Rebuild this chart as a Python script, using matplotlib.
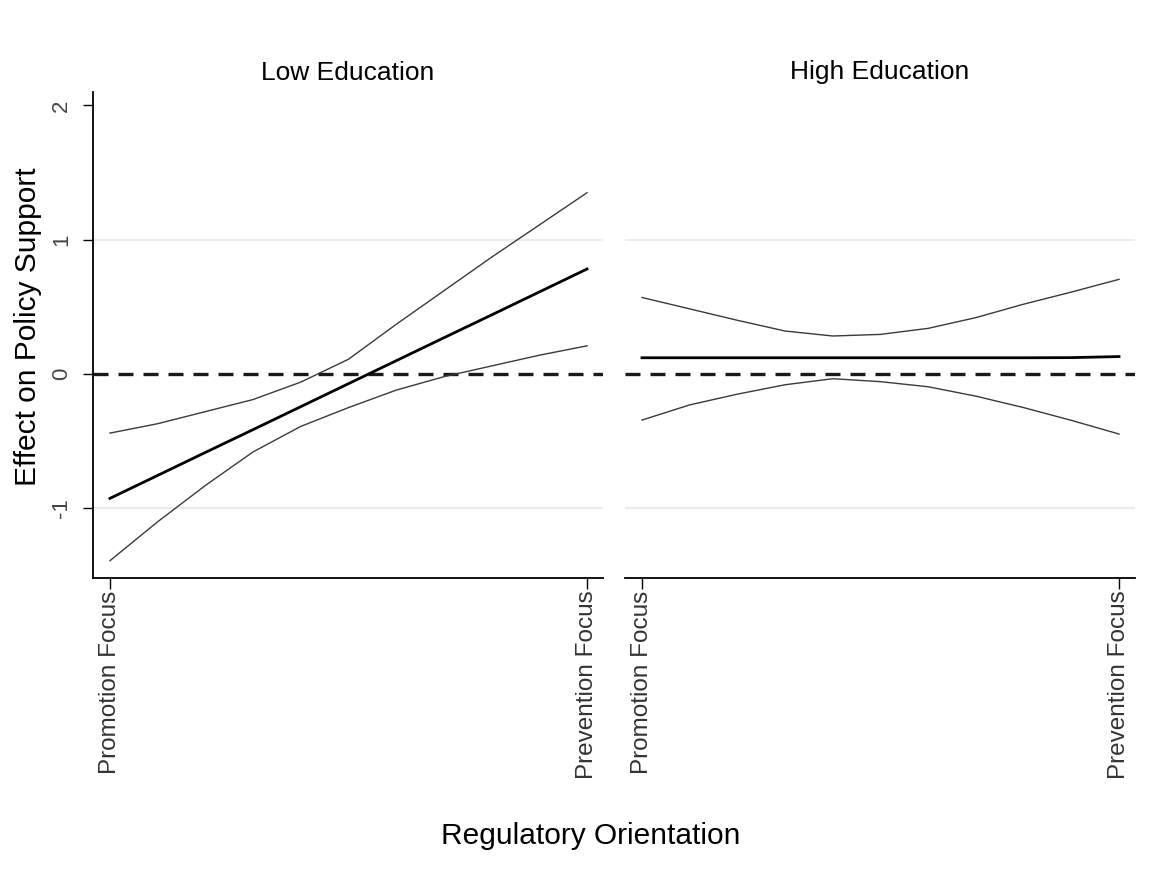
import numpy as np
import matplotlib
matplotlib.use("Agg")
import matplotlib.pyplot as plt

plt.rcParams['font.family'] = ['Liberation Sans', 'DejaVu Sans']

# values (x: 0 = promotion focus, 1 = prevention focus)
x = [0.0, 0.1, 0.2, 0.3, 0.4, 0.5, 0.6, 0.7, 0.8, 0.9, 1.0]

low_mid = [-0.926, -0.755, -0.584, -0.414, -0.243, -0.072, 0.099, 0.270, 0.440, 0.611, 0.782]
low_upper = [-0.44, -0.37, -0.28, -0.19, -0.06, 0.11, 0.37, 0.62, 0.87, 1.11, 1.35]
low_lower = [-1.39, -1.10, -0.83, -0.58, -0.39, -0.25, -0.12, -0.02, 0.06, 0.14, 0.21]

high_mid = [0.121, 0.121, 0.121, 0.121, 0.121, 0.121, 0.121, 0.121, 0.121, 0.122, 0.130]
high_upper = [0.57, 0.485, 0.40, 0.32, 0.283, 0.295, 0.34, 0.42, 0.52, 0.61, 0.705]
high_lower = [-0.343, -0.23, -0.15, -0.08, -0.035, -0.057, -0.095, -0.165, -0.25, -0.345, -0.447]

panels = ["Low Education", "High Education"]
xtick_labels = ["Promotion Focus", "Prevention Focus"]
yticks = [-1, 0, 1, 2]
ytick_labels = ["-1", "0", "1", "2"]
gridvals = [-1, 1]

fig = plt.figure(figsize=(11.67, 8.84), dpi=100)
W, H = 1167, 884
bottom_px, top_px = 578, 92
ax_l = fig.add_axes([93 / W, 1 - bottom_px / H, (603 - 93) / W, (bottom_px - top_px) / H])
ax_r = fig.add_axes([625 / W, 1 - bottom_px / H, (1135 - 625) / W, (bottom_px - top_px) / H])

series = [(low_mid, low_upper, low_lower), (high_mid, high_upper, high_lower)]

for i, (ax, title, (mid, up, lo)) in enumerate(zip([ax_l, ax_r], panels, series)):
    ax.set_xlim(-0.0356, 1.0335)
    ax.set_ylim(-1.519, 2.1)
    for g in gridvals:
        ax.axhline(g, color="#e6eef0", lw=1.6, zorder=0)
    ax.axhline(0, color="#1a1a1a", lw=2.4, dashes=(4.5, 3), zorder=1)
    ax.plot(x, up, color="#3a3a3a", lw=1.0, zorder=2)
    ax.plot(x, lo, color="#3a3a3a", lw=1.0, zorder=2)
    ax.plot(x, mid, color="black", lw=2.0, zorder=3)

    ax.set_title(title, fontsize=19, pad=9)
    ax.set_xticks([0, 1])
    ax.set_xticklabels(xtick_labels, rotation=90, fontsize=17.5, color="#333333")
    ax.tick_params(axis="x", direction="out", length=8, width=1, pad=1)

    for s in ["top", "right"]:
        ax.spines[s].set_visible(False)
    ax.spines["bottom"].set_linewidth(1.3)
    if i == 0:
        ax.spines["left"].set_linewidth(1.3)
        ax.set_yticks(yticks)
        ax.set_yticklabels(ytick_labels, rotation=90, va="center", fontsize=16, color="#444444")
        ax.tick_params(axis="y", direction="out", length=7, width=1, pad=8)
    else:
        ax.spines["left"].set_visible(False)
        ax.set_yticks([])
    ax.set_facecolor("none")

fig.text(591 / W, 1 - 836 / H, "Regulatory Orientation", ha="center", va="center", fontsize=21.5)
fig.text(28 / W, 1 - 327 / H, "Effect on Policy Support", ha="center", va="center",
         rotation=90, fontsize=21.5)

fig.savefig("out.png", dpi=100)
